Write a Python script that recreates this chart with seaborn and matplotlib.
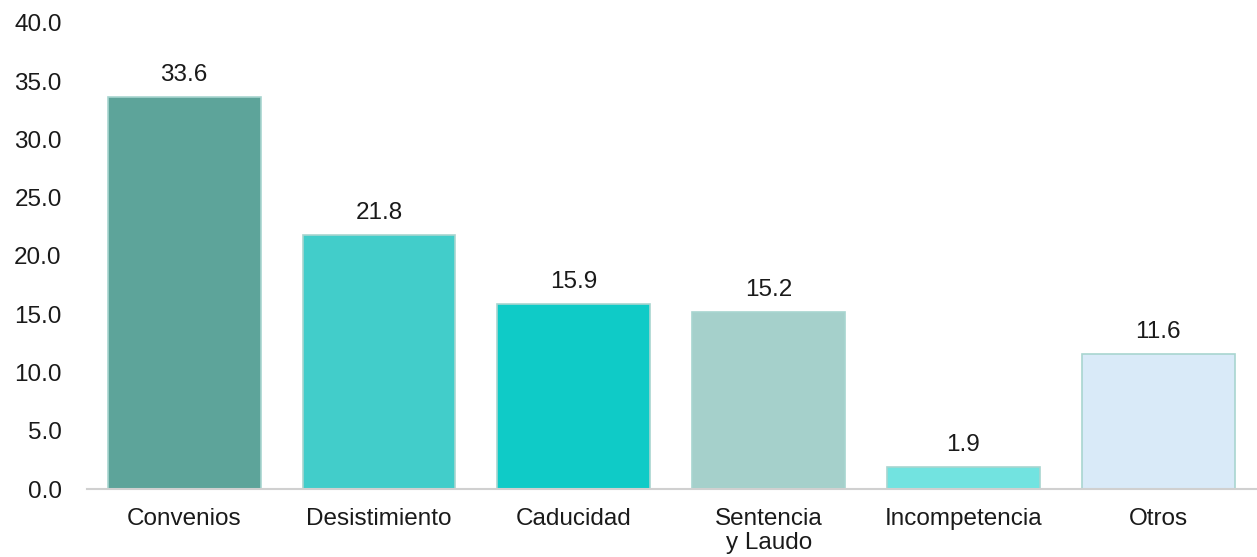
import pandas as pd
import matplotlib.pyplot as plt
import seaborn as sns

# Data
categorias = ['Convenios', 'Desistimiento', 'Caducidad', 'Sentencia\ny Laudo', 'Incompetencia', 'Otros']
valores = [33.6, 21.8, 15.9, 15.2, 1.9, 11.6]
colores = ['#5da49a', '#42cdca', '#0fcbc7', '#a5d0cb', '#72e3e0', '#d9eaf8']
yticks = [0, 5, 10, 15, 20, 25, 30, 35, 40]

df = pd.DataFrame({'categoria': categorias, 'valor': valores})

sns.set_style('white')
plt.rcParams['font.family'] = ['Liberation Sans', 'DejaVu Sans']

fig = plt.figure(figsize=(12.57, 5.57), dpi=100)
ax = fig.add_axes([0.069, 0.122, 0.93, 0.837])

sns.barplot(data=df, x='categoria', y='valor', hue='categoria', palette=colores,
            legend=False, width=0.785, edgecolor='#a8d5d0', linewidth=1.2,
            saturation=1, ax=ax)

for cont in ax.containers:
    ax.bar_label(cont, fmt='%.1f', padding=8, fontsize=17.5, color='#1a1a1a')

ax.set_ylim(0, 40)
ax.set_xlim(-0.5, 5.5)
ax.set_yticks(yticks)
ax.set_yticklabels([f'{v:.1f}' for v in yticks])
ax.tick_params(axis='both', length=0, labelsize=17.5, colors='#1a1a1a')
ax.tick_params(axis='x', pad=14)
ax.tick_params(axis='y', pad=18)
for lbl in ax.get_xticklabels():
    lbl.set_linespacing(1.08)
ax.set_xlabel('')
ax.set_ylabel('')

for s in ['left', 'top', 'right']:
    ax.spines[s].set_visible(False)
ax.spines['bottom'].set_color('#d0d0d0')
ax.spines['bottom'].set_linewidth(1.5)

fig.savefig('out.png', dpi=100)
